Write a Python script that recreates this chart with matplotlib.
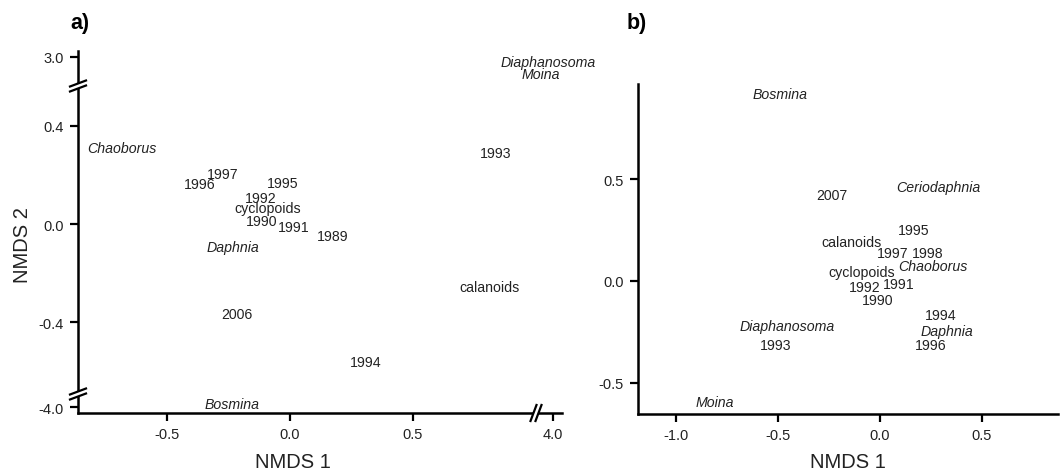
import numpy as np
import matplotlib
matplotlib.use('Agg')
import matplotlib.pyplot as plt
from matplotlib.ticker import FormatStrFormatter

plt.rcParams['font.family'] = ['Liberation Sans', 'DejaVu Sans']
plt.rcParams['axes.unicode_minus'] = False

species = ['Chaoborus', 'Daphnia', 'Bosmina', 'Diaphanosoma', 'Moina', 'Ceriodaphnia']

# panel a) scores
a_labels = ['Chaoborus', '1997', '1996', '1995', '1992', 'cyclopoids', '1990', '1991',
            '1989', 'Daphnia', '2006', 'Bosmina', '1993', 'calanoids', '1994',
            'Diaphanosoma', 'Moina']
a_x = [-0.683, -0.272, -0.366, -0.028, -0.118, -0.089, -0.114, 0.016,
       0.175, -0.232, -0.215, -0.236, 0.837, 0.813, 0.309, 3.98, 3.95]
a_y = [0.310, 0.204, 0.163, 0.167, 0.106, 0.065, 0.012, -0.012,
       -0.049, -0.094, -0.367, -3.988, 0.290, -0.257, -0.563, 2.98, 2.93]

# panel b) scores
b_labels = ['Bosmina', '2007', 'Ceriodaphnia', '1995', 'calanoids', '1997', '1998',
            'Chaoborus', 'cyclopoids', '1991', '1992', '1990', '1994', 'Daphnia',
            '1996', 'Diaphanosoma', '1993', 'Moina']
b_x = [-0.490, -0.235, 0.284, 0.167, -0.137, 0.064, 0.235, 0.260, -0.088,
       0.093, -0.074, -0.010, 0.299, 0.328, 0.250, -0.456, -0.510, -0.809]
b_y = [0.921, 0.424, 0.463, 0.251, 0.192, 0.138, 0.138, 0.074, 0.044,
       -0.015, -0.030, -0.094, -0.167, -0.246, -0.315, -0.222, -0.315, -0.596]

a_xticks = [-0.5, 0.0, 0.5, 4.0]
a_yticks = [-4.0, -0.4, 0.0, 0.4, 3.0]
b_xticks = [-1.0, -0.5, 0.0, 0.5]
b_yticks = [-0.5, 0.0, 0.5]

# broken-axis scales (value -> position), piecewise linear
xa_v = np.array([-10, 0.98, 3.95, 10])
xa_p = np.array([-10, 0.98, 1.019, 7.069])
ya_v = np.array([-10, -3.95, -0.69, 0.55, 2.9, 10])
ya_p = np.array([-6.747, -0.697, -0.69, 0.55, 0.582, 7.682])

W, H = 1061, 477
fig = plt.figure(figsize=(W / 100, H / 100), dpi=100)
ax1 = fig.add_axes([78 / W, 1 - 414 / H, (562 - 78) / W, (414 - 52) / H])
ax2 = fig.add_axes([638 / W, 1 - 415 / H, (1058 - 638) / W, (415 - 85) / H])

ax1.set_xscale('function', functions=(lambda v: np.interp(v, xa_v, xa_p),
                                      lambda p: np.interp(p, xa_p, xa_v)))
ax1.set_yscale('function', functions=(lambda v: np.interp(v, ya_v, ya_p),
                                      lambda p: np.interp(p, ya_p, ya_v)))
ax1.set_xlim(-0.862, 4.037)
ax1.set_ylim(-4.024, 3.024)
ax2.set_xlim(-1.186, 0.873)
ax2.set_ylim(-0.655, 0.970)

tc = '#222222'
for ax, labs, xs, ys in [(ax1, a_labels, a_x, a_y), (ax2, b_labels, b_x, b_y)]:
    for lab, x, y in zip(labs, xs, ys):
        ax.text(x, y, lab, ha='center', va='center', fontsize=10.2, color=tc,
                style='italic' if lab in species else 'normal')
    for s in ['top', 'right']:
        ax.spines[s].set_visible(False)
    for s in ['left', 'bottom']:
        ax.spines[s].set_linewidth(1.8)
    ax.tick_params(direction='out', length=6, width=1.6, labelsize=10.5,
                   labelcolor=tc, pad=4)
    ax.xaxis.set_major_formatter(FormatStrFormatter('%.1f'))
    ax.yaxis.set_major_formatter(FormatStrFormatter('%.1f'))
    ax.patch.set_visible(False)

ax1.set_xticks(a_xticks)
ax1.set_yticks(a_yticks)
ax1.minorticks_off()
ax2.set_xticks(b_xticks)
ax2.set_yticks(b_yticks)

ax1.set_xlabel('NMDS 1', fontsize=14.5, color=tc)
ax1.xaxis.set_label_coords((293 - 78) / 484, (414 - 463) / 362)
ax1.xaxis.label.set_va('center')
ax1.set_ylabel('NMDS 2', fontsize=14.5, color=tc)
ax1.yaxis.set_label_coords((22 - 78) / 484, (414 - 245) / 362)
ax1.yaxis.label.set_va('center')
ax2.set_xlabel('NMDS 1', fontsize=14.5, color=tc)
ax2.xaxis.set_label_coords(0.5, (415 - 463) / 330)
ax2.xaxis.label.set_va('center')


# "//" break marks drawn in figure pixels (image y grows downward)
def brk(cx, cy, vertical):
    t = fig.transFigure
    if vertical:  # break on the y spine
        d1 = (-8, 3, 8, -3)
        off = (0, 5)
    else:  # break on the x spine
        d1 = (-3, 8, 3, -8)
        off = (5, 0)
    px = [cx - off[0] / 2, cx + off[0] / 2]
    py = [cy - off[1] / 2, cy + off[1] / 2]
    # white gap over spine
    gx = [px[0] + d1[0], px[0] + d1[2], px[1] + d1[2], px[1] + d1[0]]
    gy = [py[0] + d1[1], py[0] + d1[3], py[1] + d1[3], py[1] + d1[1]]
    fig.patches.append(plt.Polygon(list(zip(np.array(gx) / W, 1 - np.array(gy) / H)),
                                   closed=True, fc='white', ec='none',
                                   transform=t, zorder=5))
    for x0, y0 in zip(px, py):
        fig.add_artist(plt.Line2D([(x0 + d1[0]) / W, (x0 + d1[2]) / W],
                                  [1 - (y0 + d1[1]) / H, 1 - (y0 + d1[3]) / H],
                                  color='black', lw=1.6, transform=t, zorder=6))


brk(78, 87, True)
brk(78, 395, True)
brk(536, 414, False)

fig.text(80 / W, 1 - 23 / H, 'a)', fontsize=15.5, fontweight='bold',
         ha='center', va='center', color='black')
fig.text(637 / W, 1 - 23 / H, 'b)', fontsize=15.5, fontweight='bold',
         ha='center', va='center', color='black')

fig.savefig('out.png', dpi=100)
